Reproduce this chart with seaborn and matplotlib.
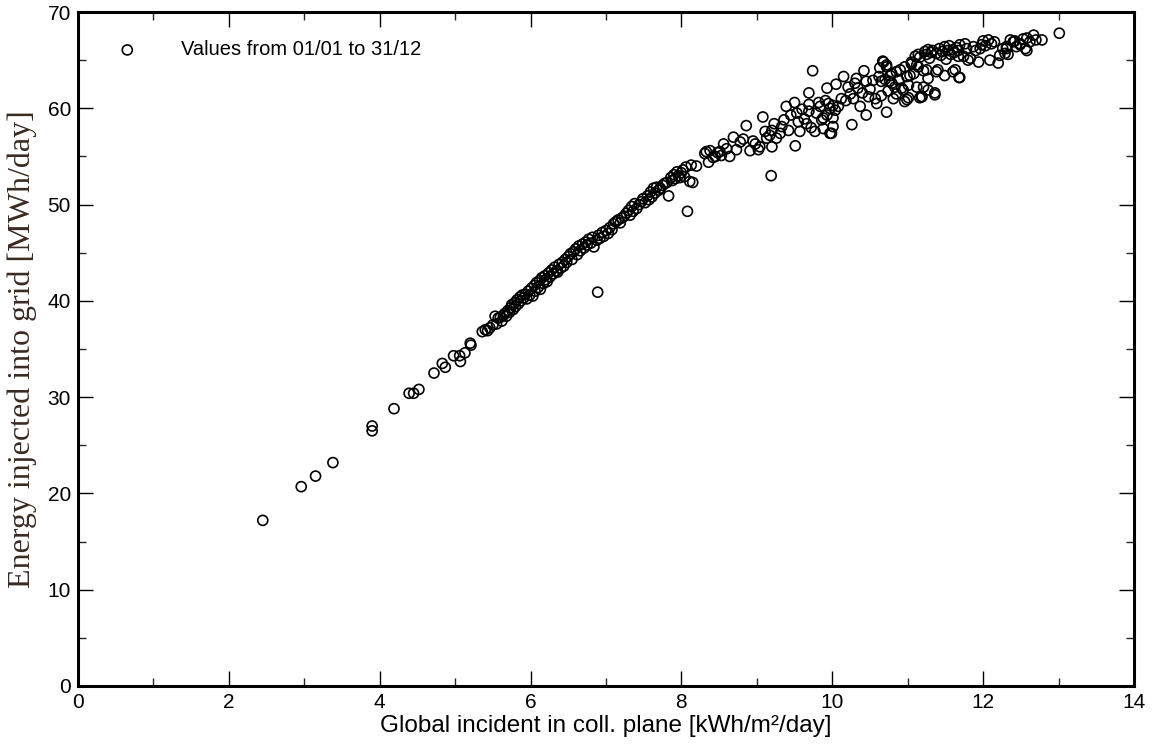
import numpy as np
import matplotlib
matplotlib.use("Agg")
import matplotlib.pyplot as plt
import seaborn as sns
from matplotlib.ticker import MultipleLocator

# daily values, grouped by irradiance range
# x: global incident in coll. plane [kWh/m2/day], y: energy injected [MWh/day]
x_low = [2.45, 2.96, 3.15, 3.38, 3.90, 3.90, 4.19, 4.39, 4.45, 4.52,
         4.72, 4.83, 4.87, 4.98, 5.06, 5.07, 5.13, 5.20, 5.21]
y_low = [17.2, 20.7, 21.8, 23.2, 27.0, 26.5, 28.8, 30.4, 30.4, 30.8,
         32.5, 33.5, 33.1, 34.3, 34.3, 33.7, 34.6, 35.6, 35.4]

x_b = [5.36, 5.40, 5.43, 5.46, 5.50, 5.53, 5.55, 5.57, 5.60, 5.62,
       5.64, 5.66, 5.68, 5.70, 5.72, 5.74, 5.75, 5.77, 5.79, 5.80,
       5.82, 5.84, 5.86, 5.87, 5.89, 5.91, 5.93, 5.95, 5.97, 5.99]
y_b = [36.8, 37.0, 36.9, 37.2, 37.5, 38.4, 37.6, 38.2, 38.3, 37.9,
       38.5, 38.7, 38.4, 39.0, 38.8, 39.3, 39.6, 39.1, 39.8, 39.4,
       40.1, 39.7, 40.4, 40.0, 40.6, 40.3, 40.7, 40.2, 41.0, 40.6]

x_c = [6.01, 6.03, 6.05, 6.06, 6.08, 6.10, 6.12, 6.13, 6.15, 6.17,
       6.19, 6.20, 6.22, 6.24, 6.26, 6.28, 6.30, 6.32, 6.34, 6.36,
       6.38, 6.40, 6.42, 6.44, 6.46, 6.48, 6.50, 6.53, 6.55, 6.57,
       6.60, 6.62, 6.64, 6.66, 6.69, 6.71, 6.73, 6.75, 6.77, 6.80,
       6.82, 6.84, 6.88, 6.89]
y_c = [41.3, 40.5, 41.6, 41.0, 41.9, 41.4, 42.1, 41.2, 42.4, 41.8,
       42.6, 42.2, 42.0, 42.9, 42.5, 43.2, 42.8, 43.5, 43.1, 43.0,
       43.8, 43.4, 44.0, 43.6, 44.3, 44.0, 44.6, 44.9, 44.3, 45.1,
       45.4, 44.8, 45.7, 45.2, 45.9, 45.5, 46.1, 45.8, 46.4, 46.0,
       46.6, 45.6, 46.3, 40.9]

x_d = [6.90, 6.92, 6.95, 6.97, 7.00, 7.03, 7.05, 7.08, 7.10, 7.13,
       7.16, 7.19, 7.21, 7.24, 7.27, 7.30, 7.32, 7.34, 7.36, 7.38,
       7.41, 7.44, 7.47, 7.49, 7.52, 7.55, 7.57, 7.59, 7.61, 7.63,
       7.65, 7.67, 7.70, 7.72, 7.75, 7.78, 7.81, 7.83, 7.86, 7.88,
       7.90, 7.92, 7.94, 7.96, 7.98, 8.00, 8.02, 8.04, 8.06, 8.08,
       8.11, 8.13, 8.15]
y_d = [46.8, 46.5, 47.1, 46.7, 47.3, 47.0, 47.6, 47.4, 48.0, 48.2,
       48.4, 48.1, 48.6, 48.8, 49.1, 49.4, 48.9, 49.8, 49.3, 50.1,
       49.6, 50.0, 50.3, 50.6, 50.2, 50.9, 50.5, 51.3, 50.8, 51.7,
       51.2, 51.8, 51.5, 51.7, 52.0, 52.2, 52.3, 50.9, 52.8, 52.5,
       53.1, 52.7, 53.4, 53.0, 52.8, 53.3, 53.6, 52.9, 53.9, 49.3,
       52.4, 54.1, 52.3]

x_e = [8.20, 8.31, 8.33, 8.36, 8.38, 8.42, 8.45, 8.48, 8.51, 8.53,
       8.56, 8.60, 8.64, 8.69, 8.73, 8.78, 8.82, 8.86, 8.91, 8.95,
       8.98]
y_e = [54.0, 55.3, 55.5, 54.4, 55.6, 54.9, 55.0, 55.4, 55.5, 55.1,
       56.3, 55.8, 55.0, 57.0, 55.7, 56.5, 56.8, 58.2, 55.6, 56.6,
       56.3]

x_f = [9.02, 9.04, 9.08, 9.11, 9.13, 9.17, 9.20, 9.20, 9.23, 9.19,
       9.26, 9.31, 9.33, 9.36, 9.39, 9.42, 9.45, 9.50, 9.51, 9.53,
       9.55, 9.57, 9.60, 9.63, 9.66, 9.69, 9.69, 9.69, 9.72, 9.74,
       9.77, 9.79, 9.82, 9.84, 9.86, 9.88, 9.88, 9.91, 9.93, 9.93,
       9.95, 9.97, 9.97, 9.99, 10.01, 10.01, 10.01, 10.04, 10.05, 10.08]
y_f = [55.7, 56.0, 59.1, 57.6, 56.9, 57.2, 57.7, 56.0, 58.4, 53.0,
       56.9, 57.4, 58.1, 58.8, 60.2, 57.7, 59.3, 60.6, 56.1, 59.5,
       58.6, 57.6, 59.9, 58.9, 58.4, 61.6, 60.4, 59.7, 58.0, 63.9,
       57.6, 59.5, 60.6, 60.2, 58.8, 59.0, 57.9, 60.8, 62.1, 59.3,
       60.5, 60.0, 57.4, 57.4, 58.1, 59.0, 60.3, 59.8, 62.5, 60.2]

x_g = [10.12, 10.15, 10.18, 10.21, 10.24, 10.26, 10.28, 10.30, 10.32, 10.34,
       10.37, 10.40, 10.42, 10.45, 10.45, 10.48, 10.50, 10.54, 10.57, 10.59,
       10.62, 10.63, 10.65, 10.65, 10.67, 10.68, 10.70, 10.72, 10.72, 10.72,
       10.74, 10.76, 10.77, 10.79, 10.79, 10.81, 10.83, 10.85, 10.85, 10.88,
       10.90, 10.92, 10.94, 10.96, 10.96, 10.99, 10.99]
y_g = [61.0, 63.3, 60.8, 62.2, 61.5, 58.3, 61.0, 62.6, 63.1, 62.1,
       60.2, 61.6, 63.9, 62.8, 59.3, 61.2, 62.0, 62.9, 61.0, 60.5,
       63.3, 64.2, 62.8, 61.3, 64.9, 64.8, 63.0, 64.5, 64.3, 59.6,
       61.8, 62.8, 63.4, 62.6, 63.6, 61.0, 62.2, 63.8, 61.5, 62.9,
       64.0, 62.1, 61.9, 64.3, 60.7, 63.3, 60.9]

x_h = [11.01, 11.01, 11.03, 11.05, 11.05, 11.08, 11.10, 11.12, 11.12, 11.14,
       11.14, 11.16, 11.16, 11.18, 11.19, 11.21, 11.21, 11.23, 11.25, 11.25,
       11.27, 11.27, 11.27, 11.29, 11.31, 11.33, 11.36, 11.36, 11.38, 11.38,
       11.40, 11.42, 11.44, 11.46, 11.49, 11.49, 11.51, 11.53, 11.55, 11.57,
       11.60, 11.60, 11.62, 11.63, 11.65, 11.67, 11.67, 11.68, 11.69, 11.69,
       11.74, 11.76, 11.78, 11.80, 11.83, 11.87, 11.90, 11.94, 11.96, 11.98]
y_h = [62.4, 61.1, 63.4, 64.6, 64.8, 63.6, 65.4, 62.2, 64.5, 64.3,
       65.6, 61.1, 65.3, 61.2, 61.2, 63.9, 62.2, 65.9, 64.0, 65.6,
       63.1, 61.9, 66.1, 65.2, 65.8, 66.0, 61.4, 61.6, 63.8, 65.7,
       64.0, 66.2, 65.5, 65.9, 63.4, 66.4, 65.1, 66.0, 66.5, 65.6,
       63.8, 66.1, 65.8, 64.0, 66.3, 65.4, 66.0, 63.2, 63.2, 66.6,
       65.4, 66.7, 66.2, 65.0, 65.2, 66.4, 66.0, 64.8, 66.2, 66.6]

x_i = [12.00, 12.03, 12.07, 12.09, 12.11, 12.15, 12.20, 12.22, 12.26, 12.29,
       12.31, 12.31, 12.33, 12.36, 12.40, 12.42, 12.44, 12.49, 12.49, 12.53,
       12.56, 12.58, 12.58, 12.62, 12.67, 12.70, 12.78, 13.01]
y_i = [67.0, 66.5, 67.1, 65.0, 66.7, 66.9, 64.7, 65.5, 66.2, 65.7,
       66.2, 66.4, 65.6, 67.1, 66.9, 67.0, 66.4, 66.7, 66.6, 67.2,
       66.2, 66.0, 67.3, 66.9, 67.6, 67.1, 67.1, 67.8]

legend_label = "Values from 01/01 to 31/12"

gl_inc = np.concatenate([x_low, x_b, x_c, x_d, x_e, x_f, x_g, x_h, x_i])
e_grid = np.concatenate([y_low, y_b, y_c, y_d, y_e, y_f, y_g, y_h, y_i])

sns.set_style("ticks")
plt.rcParams['font.family'] = ['Liberation Sans', 'DejaVu Sans']
plt.rcParams['text.color'] = 'black'
plt.rcParams['axes.labelcolor'] = 'black'

fig = plt.figure(figsize=(11.55, 7.51), dpi=100)
ax = fig.add_axes([0.0675, 0.0866, 0.9143, 0.8974])

sns.scatterplot(x=gl_inc, y=e_grid, ax=ax, marker='o', s=52,
                facecolors='none', edgecolor='black', linewidth=1.2,
                label=legend_label)

ax.set_xlim(0, 14)
ax.set_ylim(0, 70)
ax.xaxis.set_major_locator(MultipleLocator(2))
ax.xaxis.set_minor_locator(MultipleLocator(1))
ax.yaxis.set_major_locator(MultipleLocator(10))
ax.yaxis.set_minor_locator(MultipleLocator(5))

for sp in ax.spines.values():
    sp.set_visible(True)
    sp.set_linewidth(2.2)
    sp.set_color('black')

ax.tick_params(which='major', direction='in', length=11, width=1.0,
               top=True, right=True, labelsize=15, pad=5, colors='black')
ax.tick_params(which='minor', direction='in', length=6, width=1.0,
               top=True, right=True)

ax.set_xlabel("Global incident in coll. plane [kWh/m²/day]", fontsize=17.5,
              labelpad=2, color='black')
ax.set_ylabel("Energy injected into grid [MWh/day]", fontsize=23,
              family=['Liberation Serif', 'DejaVu Serif'], color='#3a2a22',
              labelpad=8)

leg = ax.legend(loc='upper left', frameon=False, fontsize=14.5,
                handletextpad=1.6, handlelength=2.1, borderaxespad=1.0,
                markerscale=1.0, labelcolor='black')

fig.savefig("out.png", dpi=100)
